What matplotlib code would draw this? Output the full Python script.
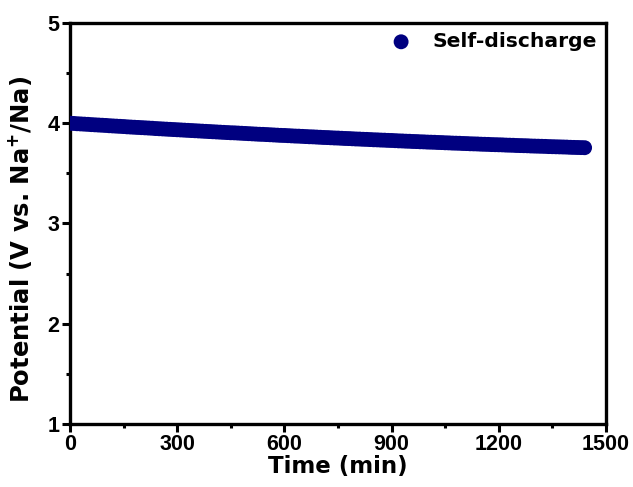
import matplotlib
matplotlib.use('Agg')
import matplotlib.pyplot as plt
from matplotlib.ticker import MultipleLocator

# time (min) and potential (V vs. Na+/Na)
time_min = [0, 10, 20, 30, 40, 50, 60, 70, 80, 90, 100, 110, 120, 130, 140,
            150, 160, 170, 180, 190, 200, 210, 220, 230, 240, 250, 260, 270,
            280, 290, 300, 310, 320, 330, 340, 350, 360, 370, 380, 390, 400,
            410, 420, 430, 440, 450, 460, 470, 480, 490, 500, 510, 520, 530,
            540, 550, 560, 570, 580, 590, 600, 610, 620, 630, 640, 650, 660,
            670, 680, 690, 700, 710, 720, 730, 740, 750, 760, 770, 780, 790,
            800, 810, 820, 830, 840, 850, 860, 870, 880, 890, 900, 910, 920,
            930, 940, 950, 960, 970, 980, 990, 1000, 1010, 1020, 1030, 1040,
            1050, 1060, 1070, 1080, 1090, 1100, 1110, 1120, 1130, 1140, 1150,
            1160, 1170, 1180, 1190, 1200, 1210, 1220, 1230, 1240, 1250, 1260,
            1270, 1280, 1290, 1300, 1310, 1320, 1330, 1340, 1350, 1360, 1370,
            1380, 1390, 1400, 1410, 1420, 1430, 1440]
potential = [4.000, 3.998, 3.995, 3.993, 3.991, 3.989, 3.986, 3.984, 3.982,
             3.980, 3.978, 3.975, 3.973, 3.971, 3.969, 3.967, 3.964, 3.962,
             3.960, 3.958, 3.956, 3.954, 3.952, 3.950, 3.947, 3.945, 3.943,
             3.941, 3.939, 3.937, 3.935, 3.933, 3.931, 3.929, 3.927, 3.925,
             3.923, 3.921, 3.919, 3.917, 3.915, 3.913, 3.911, 3.909, 3.907,
             3.905, 3.904, 3.902, 3.900, 3.898, 3.896, 3.894, 3.892, 3.890,
             3.889, 3.887, 3.885, 3.883, 3.881, 3.879, 3.878, 3.876, 3.874,
             3.872, 3.871, 3.869, 3.867, 3.865, 3.864, 3.862, 3.860, 3.858,
             3.857, 3.855, 3.853, 3.852, 3.850, 3.848, 3.847, 3.845, 3.843,
             3.842, 3.840, 3.839, 3.837, 3.835, 3.834, 3.832, 3.831, 3.829,
             3.828, 3.826, 3.824, 3.823, 3.821, 3.820, 3.818, 3.817, 3.815,
             3.814, 3.812, 3.811, 3.810, 3.808, 3.807, 3.805, 3.804, 3.802,
             3.801, 3.800, 3.798, 3.797, 3.795, 3.794, 3.793, 3.791, 3.790,
             3.789, 3.787, 3.786, 3.785, 3.784, 3.782, 3.781, 3.780, 3.778,
             3.777, 3.776, 3.775, 3.773, 3.772, 3.771, 3.770, 3.769, 3.767,
             3.766, 3.765, 3.764, 3.763, 3.762, 3.760, 3.759, 3.758, 3.757,
             3.756]
series_label = 'Self-discharge'
xticks = [0, 300, 600, 900, 1200, 1500]
yticks = [1, 2, 3, 4, 5]

plt.rcParams['font.family'] = ['Liberation Sans', 'DejaVu Sans']
plt.rcParams['font.weight'] = 'bold'
plt.rcParams['mathtext.fontset'] = 'custom'
plt.rcParams['mathtext.bf'] = 'DejaVu Sans:bold'
plt.rcParams['mathtext.rm'] = 'DejaVu Sans:bold'
plt.rcParams['mathtext.default'] = 'bf'

fig = plt.figure(figsize=(6.33, 4.87), dpi=100)
ax = fig.add_axes([0.1106, 0.1294, 0.8468, 0.8234])

ax.scatter(time_min, potential, s=115, color='#000080', edgecolors='none',
           label=series_label, zorder=3)

ax.set_xlim(0, 1500)
ax.set_ylim(1, 5)
ax.set_xticks(xticks)
ax.set_yticks(yticks)
ax.xaxis.set_minor_locator(MultipleLocator(150))
ax.yaxis.set_minor_locator(MultipleLocator(0.5))

for sp in ax.spines.values():
    sp.set_linewidth(2.4)
ax.tick_params(which='major', direction='out', length=5.5, width=2.2,
               labelsize=15.5, pad=2)
ax.tick_params(which='minor', direction='out', length=3, width=2.2)
for lab in ax.get_xticklabels() + ax.get_yticklabels():
    lab.set_fontweight('bold')

ax.set_xlabel('Time (min)', fontsize=16.5, fontweight='bold',
              family='DejaVu Sans', labelpad=0)
ax.set_ylabel(r'Potential (V vs. Na$^{+}$/Na)', fontsize=17.5,
              fontweight='bold', family='DejaVu Sans')
ax.yaxis.set_label_coords(-0.068, 0.46)

ax.legend(loc='upper right', frameon=False, markerscale=1.0,
          handletextpad=0.55, borderaxespad=0.1, borderpad=0.35,
          prop={'weight': 'bold', 'size': 14.6, 'family': 'DejaVu Sans'})

fig.savefig('out.png', dpi=100)
